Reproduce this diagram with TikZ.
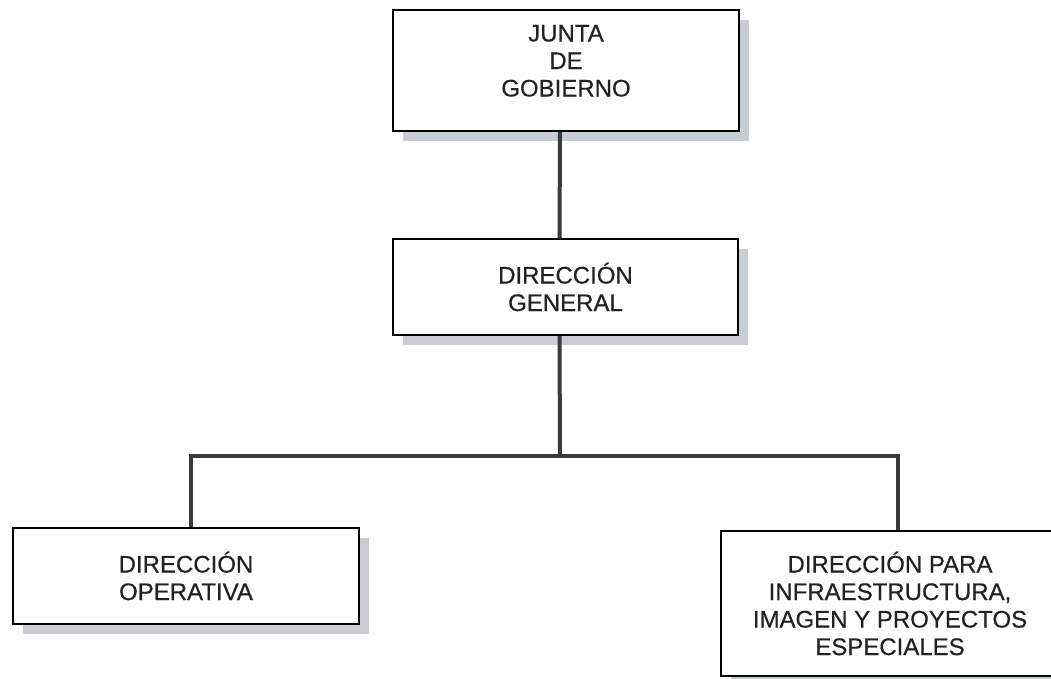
\documentclass[tikz,border=0pt]{standalone}
\usepackage{fontspec}
\setmainfont[FakeBold=0.5]{Liberation Sans}
\usepackage{tikz}
\usetikzlibrary{calc}
\usetikzlibrary{shadows}
\definecolor{shadowgray}{HTML}{C9CCD3}
\definecolor{linegray}{HTML}{3A3A3A}
\definecolor{textgray}{HTML}{222222}
\tikzset{
  unit/.style={draw=black, line width=1.5pt, fill=white, inner sep=0pt, align=center,
    text=textgray, font=\fontsize{24}{27.5}\selectfont,
    drop shadow={shadow xshift=10pt, shadow yshift=-10pt, fill=shadowgray, opacity=1}},
  link/.style={draw=linegray, line width=4pt}
}

\begin{document}
\begin{tikzpicture}[x=1pt, y=-1pt]

\useasboundingbox[fill=white] (0,0) rectangle (1051,678);

\node[unit, minimum width=346pt, minimum height=121pt] (junta) at (566,70.5) {JUNTA\\DE\\GOBIERNO\\[-8pt]};
\node[unit, minimum width=345pt, minimum height=96pt] (general) at (565.5,287) {DIRECCIÓN\\GENERAL};
\node[unit, minimum width=346pt, minimum height=96pt] (operativa) at (186,576) {DIRECCIÓN\\OPERATIVA};
\node[unit, minimum width=338pt, minimum height=145pt] (infra) at (890,603.5) {DIRECCIÓN PARA\\INFRAESTRUCTURA,\\IMAGEN Y PROYECTOS\\ESPECIALES};

\coordinate (bar) at (560,456);

\draw[link] ([xshift=-6pt]junta.south) -- ([xshift=-6pt]general.north);
\draw[link] ([xshift=-6pt]general.south) -- (bar);
\draw[link] ([xshift=5pt]operativa.north) |- (bar) -| ([xshift=8pt]infra.north);

\end{tikzpicture}
\end{document}
